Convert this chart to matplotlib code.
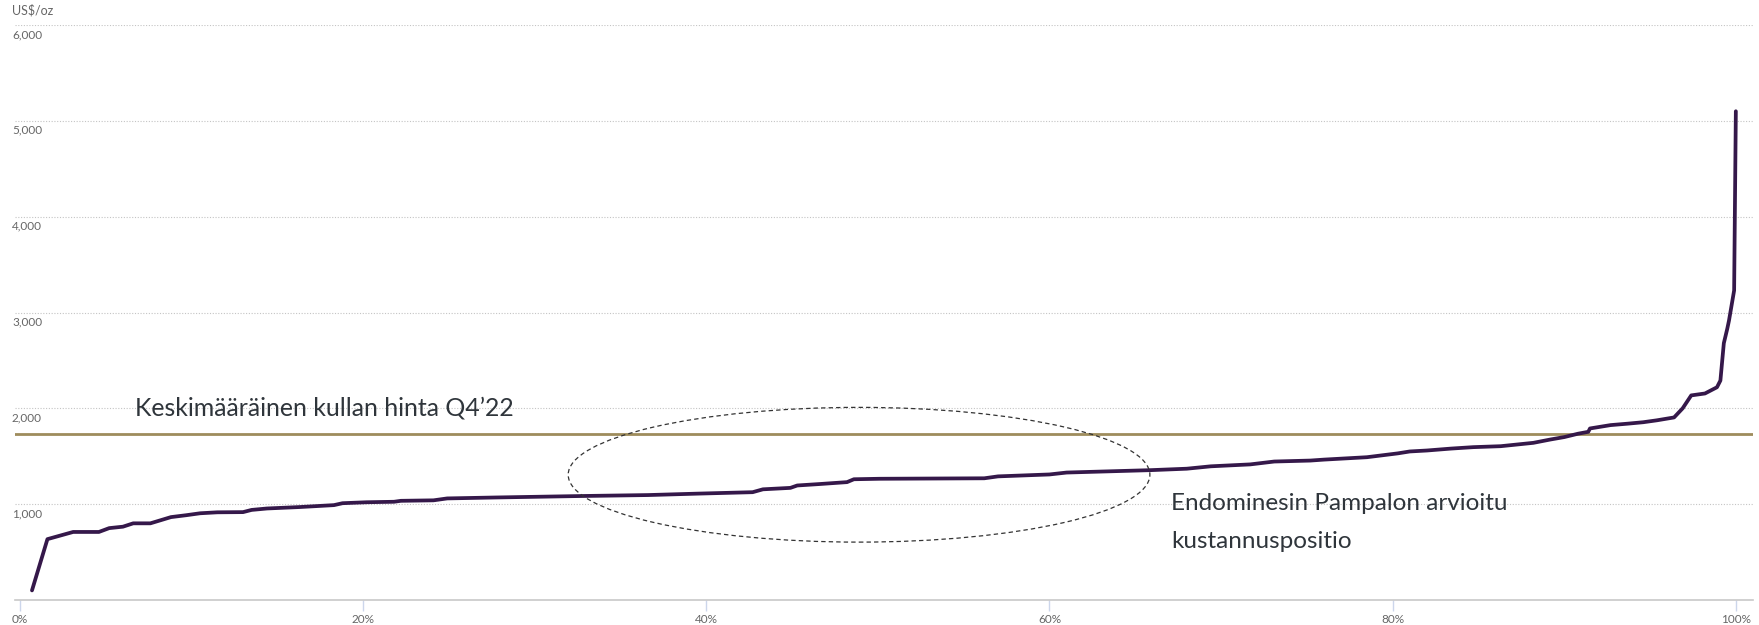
"""Gold cost curve (AISC) with Q4'22 average gold price."""
import matplotlib
matplotlib.use('Agg')
from matplotlib import pyplot as plt
from matplotlib.patches import Ellipse
from matplotlib.transforms import blended_transform_factory, ScaledTranslation

plt.rcParams['font.family'] = ['Lato', 'DejaVu Sans']

# cumulative production share (%) and cost (US$/oz)
share = [0.7, 1.6, 3.1, 4.6, 5.2, 6.0, 6.6, 7.6, 8.8, 9.7, 10.5, 11.5, 13.0, 13.5,
         14.4, 16.3, 17.3, 18.3, 18.8, 20.2, 21.8, 22.2, 24.1, 24.9, 27.8, 32.7,
         36.6, 39.5, 42.7, 43.3, 44.9, 45.3, 46.6, 48.2, 48.6, 50.1, 56.2, 57.0,
         60.0, 61.0, 65.9, 68.0, 69.4, 71.7, 73.1, 75.2, 76.0, 78.5, 80.3, 81.0,
         82.0, 83.4, 84.7, 86.3, 88.2, 89.2, 90.0, 90.8, 91.4, 91.5, 92.7, 93.7,
         94.6, 95.4, 96.4, 96.9, 97.4, 98.2, 98.9, 99.1, 99.3, 99.5, 99.6, 99.9,
         100.0]
cost = [100, 635, 710, 710, 750, 765, 800, 800, 865, 885, 905, 915, 917, 940,
        955, 970, 980, 990, 1010, 1020, 1025, 1035, 1040, 1060, 1070, 1085,
        1095, 1110, 1125, 1155, 1170, 1195, 1210, 1230, 1260, 1265, 1270, 1290,
        1310, 1330, 1355, 1370, 1395, 1415, 1445, 1455, 1465, 1490, 1530, 1550,
        1560, 1580, 1595, 1605, 1640, 1675, 1700, 1735, 1755, 1790, 1825, 1840,
        1855, 1875, 1905, 2000, 2135, 2155, 2220, 2290, 2680, 2830, 2915, 3230,
        5100]

gold_price = 1730
x_ticks = [0, 20, 40, 60, 80, 100]
x_labels = ['0%', '20%', '40%', '60%', '80%', '100%']
y_ticks = [1000, 2000, 3000, 4000, 5000, 6000]
y_labels = ['1,000', '2,000', '3,000', '4,000', '5,000', '6,000']

# Pampalo's estimated cost position (ellipse centre and size, data units)
pampalo_x, pampalo_y = 48.9, 1307
pampalo_w, pampalo_h = 33.9, 1406

fig = plt.figure(figsize=(17.59, 6.25), dpi=100)
ax = fig.add_axes([15 / 1759, 25 / 625, 1738 / 1759, 575 / 625])
ax.set_xlim(-0.29, 101.0)
ax.set_ylim(0, 6000)

for s in ['top', 'right', 'left']:
    ax.spines[s].set_visible(False)
ax.spines['bottom'].set_color('#c8c8c8')
ax.spines['bottom'].set_linewidth(1.2)

ax.set_yticks(y_ticks)
ax.yaxis.grid(True, linestyle=(0, (1, 1.5)), color='#c4c4c4', linewidth=0.8)
ax.tick_params(axis='y', length=0, labelleft=False)
ax.set_axisbelow(True)

ax.set_xticks(x_ticks)
ax.set_xticklabels(x_labels, color='#666666', fontsize=8.5)
ax.tick_params(axis='x', length=8, width=1, color='#ccd6eb', pad=2)

# y labels sit just under their gridlines, at the left edge
trans = blended_transform_factory(fig.transFigure, ax.transData)
for v, lab in zip(y_ticks, y_labels):
    ax.text(12 / 1759, v, lab, transform=trans + ScaledTranslation(0, -0.04, fig.dpi_scale_trans),
            ha='left', va='top', color='#666666', fontsize=8.5)
fig.text(12 / 1759, 1 - 10 / 625, 'US$/oz', ha='left', va='center', color='#666666', fontsize=9)

ax.axhline(gold_price, color='#9e8c5c', linewidth=2, zorder=2)
ax.plot(share, cost, color='#35184a', linewidth=2.7, solid_joinstyle='round',
        solid_capstyle='round', zorder=3)

ax.add_patch(Ellipse((pampalo_x, pampalo_y), pampalo_w, pampalo_h, fill=False,
                     edgecolor='#333333', linewidth=0.9, linestyle=(0, (3.5, 2.5)), zorder=4))

ax.text(6.7, 1930, 'Keskimääräinen kullan hinta Q4’22', fontsize=17.9, color='#2f353b',
        ha='left', va='baseline')
ax.text(67.1, 940, 'Endominesin Pampalon arvioitu', fontsize=17.5, color='#2f353b',
        ha='left', va='baseline')
ax.text(67.1, 540, 'kustannuspositio', fontsize=17.5, color='#2f353b',
        ha='left', va='baseline')

fig.savefig('out.png', dpi=100)
